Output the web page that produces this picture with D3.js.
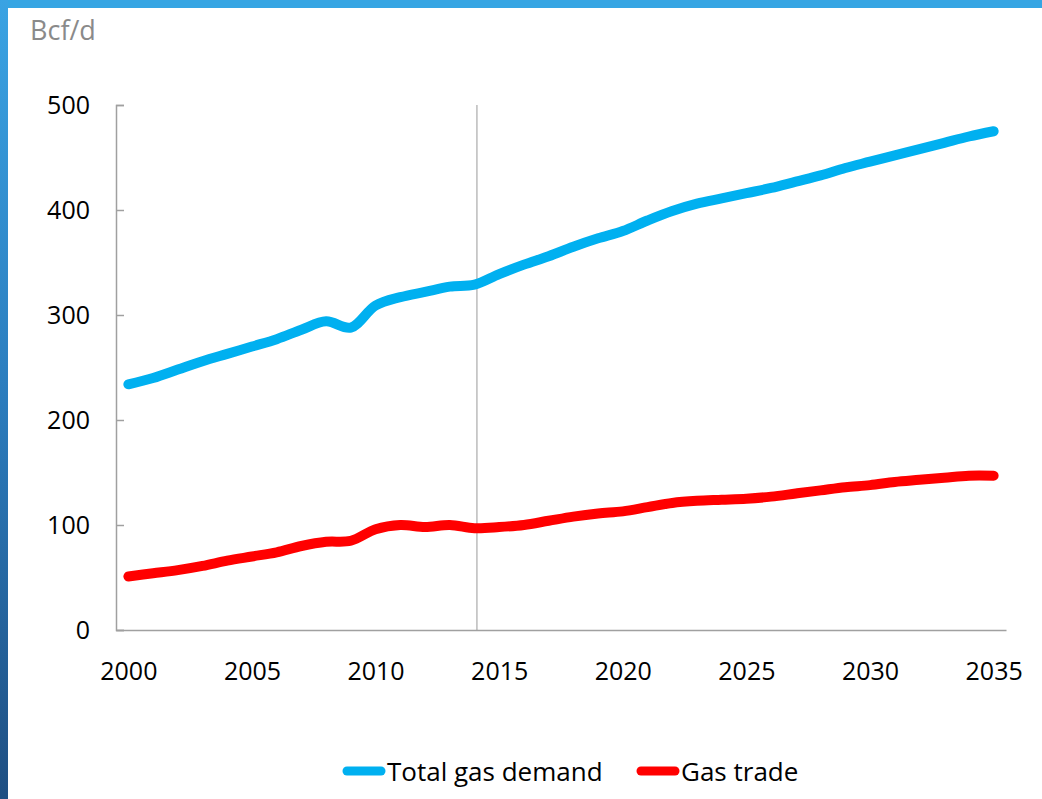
<!DOCTYPE html>
<html lang="en">
	<head>
		<meta charset="utf-8">
		<title>gas demand and trade</title>
		<script type="text/javascript" src="https://cdn.jsdelivr.net/npm/d3@7/dist/d3.min.js"></script>
		<style type="text/css">
			body { margin: 0; background: #fff; }
			svg text { font-family: "Open Sans", "Liberation Sans", sans-serif; }
		</style>
	</head>

	<body>
        <script type="text/javascript">

            // chart values
            var years = d3.range(2000, 2036);
            var totalDemand = [234, 240, 248, 256, 263, 270, 277, 286, 294, 288,
                               309, 317, 322, 327, 329, 339, 348, 356, 365, 373,
                               380, 390, 399, 406, 411, 416, 421, 427, 433, 440,
                               446, 452, 458, 464, 470, 475];
            var gasTrade = [51, 54, 57, 61, 66, 70, 74, 80, 84, 85,
                            96, 100, 98, 100, 97, 98, 100, 104, 108, 111,
                            113, 117, 121, 123, 124, 125, 127, 130, 133, 136,
                            138, 141, 143, 145, 147, 147];
            var xTicks = [2000, 2005, 2010, 2015, 2020, 2025, 2030, 2035];
            var yTicks = [0, 100, 200, 300, 400, 500];
            var dividerYear = 2014.1;   // history / projection split
            var seriesNames = ["Total gas demand", "Gas trade"];
            var seriesColors = ["#00b0f0", "#ff0000"];

            var w = 1042;
            var h = 799;

            var svg = d3.select("body")
                        .append("svg")
                        .attr("width", w)
                        .attr("height", h);

            // frame: blue band on top, darker gradient band on the left
            var grad = svg.append("defs")
                          .append("linearGradient")
                          .attr("id", "leftband")
                          .attr("x1", 0).attr("y1", 0)
                          .attr("x2", 0).attr("y2", 1);
            grad.append("stop").attr("offset", "0%").attr("stop-color", "#3aa3e3");
            grad.append("stop").attr("offset", "50%").attr("stop-color", "#2b7cbd");
            grad.append("stop").attr("offset", "100%").attr("stop-color", "#1f4f82");

            svg.append("rect")
               .attr("x", 0).attr("y", 0)
               .attr("width", w).attr("height", 8)
               .attr("fill", "#36a5e3");
            svg.append("rect")
               .attr("x", 0).attr("y", 0)
               .attr("width", 8).attr("height", h)
               .attr("fill", "url(#leftband)");

            // scales, categories sit in the middle of their slots
            var xScale = d3.scaleLinear()
                           .domain([1999.5, 2035.5])
                           .range([116, 1006]);

            var yScale = d3.scaleLinear()
                           .domain([0, 500])
                           .range([630, 105]);

            // y axis with short ticks pointing inwards
            var yAxis = d3.axisLeft(yScale)
                          .tickValues(yTicks)
                          .tickSize(-8)
                          .tickPadding(26);

            var gy = svg.append("g")
                        .attr("transform", "translate(116,0)")
                        .call(yAxis);
            gy.select(".domain").attr("stroke", "#a0a0a0").attr("stroke-width", 1.5);
            gy.selectAll(".tick line").attr("stroke", "#a0a0a0").attr("stroke-width", 1.5);
            gy.selectAll("text")
              .attr("font-size", 25)
              .attr("fill", "#000");

            // x axis, labels every 5 years, no tick marks
            var xAxis = d3.axisBottom(xScale)
                          .tickValues(xTicks)
                          .tickFormat(d3.format("d"))
                          .tickSize(0)
                          .tickPadding(32);

            var gx = svg.append("g")
                        .attr("transform", "translate(0,630)")
                        .call(xAxis);
            gx.select(".domain").attr("stroke", "#a0a0a0").attr("stroke-width", 1.5);
            gx.selectAll("text")
              .attr("font-size", 25)
              .attr("fill", "#000");

            // vertical divider
            svg.append("line")
               .attr("x1", xScale(dividerYear))
               .attr("x2", xScale(dividerYear))
               .attr("y1", yScale(500))
               .attr("y2", yScale(0))
               .attr("stroke", "#9a9a9a")
               .attr("stroke-width", 1);

            // unit label
            svg.append("text")
               .attr("x", 30)
               .attr("y", 40)
               .attr("font-size", 27)
               .attr("fill", "#8a8a8a")
               .text("Bcf/d");

            // lines
            var line = d3.line()
                         .x(function(d, i) { return xScale(years[i]); })
                         .y(function(d) { return yScale(d); })
                         .curve(d3.curveCatmullRom.alpha(0.5));

            [totalDemand, gasTrade].forEach(function(series, k) {
                svg.append("path")
                   .datum(series)
                   .attr("d", line)
                   .attr("fill", "none")
                   .attr("stroke", seriesColors[k])
                   .attr("stroke-width", 10)
                   .attr("stroke-linecap", "round")
                   .attr("stroke-linejoin", "round");
            });

            // legend
            var legendX = [343, 637];
            seriesNames.forEach(function(name, k) {
                svg.append("line")
                   .attr("x1", legendX[k] + 4)
                   .attr("x2", legendX[k] + 38)
                   .attr("y1", 771)
                   .attr("y2", 771)
                   .attr("stroke", seriesColors[k])
                   .attr("stroke-width", 9)
                   .attr("stroke-linecap", "round");
                svg.append("text")
                   .attr("x", legendX[k] + 44)
                   .attr("y", 781)
                   .attr("font-size", 26)
                   .attr("fill", "#000")
                   .text(name);
            });

        </script>
	</body>
</html>
